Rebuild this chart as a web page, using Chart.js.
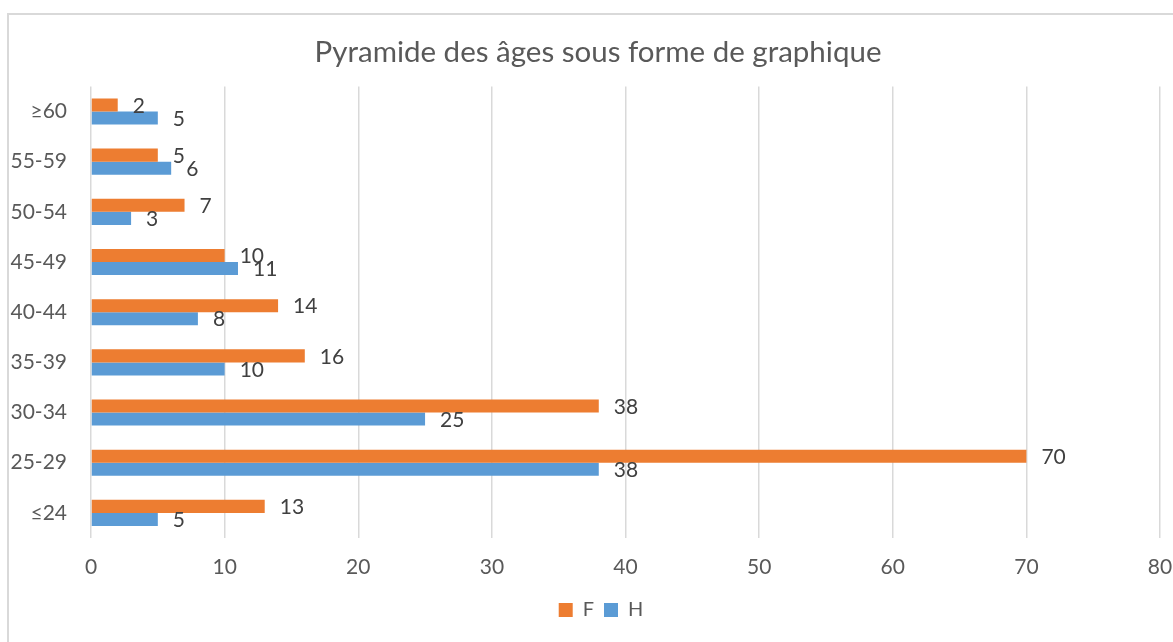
<!DOCTYPE html>
<html>
<head>
<meta charset="utf-8">
<script src="https://cdn.jsdelivr.net/npm/chart.js@4/dist/chart.umd.min.js"></script>
<style>
  html, body { margin: 0; padding: 0; background: #fff; overflow: hidden; }
  #frame { position: absolute; left: 7px; top: 13px; width: 1190px; height: 660px;
           border: 2px solid #d9d9d9; box-sizing: border-box; }
  #wrap { position: absolute; left: 0; top: 0; width: 1173px; height: 642px; }
</style>
</head>
<body>
<div id="frame"></div>
<div id="wrap"><canvas id="chart" width="1173" height="642"></canvas></div>
<script>
// Age groups, oldest at the top
const ageGroups = ['≥60', '55-59', '50-54', '45-49', '40-44', '35-39', '30-34', '25-29', '≤24'];
// Women (F) and men (H) per age group
const femmes = [2, 5, 7, 10, 14, 16, 38, 70, 13];
const hommes = [5, 6, 3, 11, 8, 10, 25, 38, 5];
const xTicks = [0, 10, 20, 30, 40, 50, 60, 70, 80];

const FONT = 'Lato, "Open Sans", sans-serif';

// Writes each bar's value just past its end
const valueLabels = {
  id: 'valueLabels',
  afterDatasetsDraw(chart) {
    const ctx = chart.ctx;
    ctx.save();
    ctx.font = '21px ' + FONT;
    ctx.fillStyle = '#404040';
    ctx.textAlign = 'left';
    ctx.textBaseline = 'middle';
    chart.data.datasets.forEach((ds, di) => {
      const meta = chart.getDatasetMeta(di);
      meta.data.forEach((bar, i) => {
        ctx.fillText(String(ds.data[i]), bar.x + 15, bar.y + 1);
      });
    });
    ctx.restore();
  }
};

// Centres the title and legend on the frame rather than on the canvas
const centreBlocks = {
  id: 'centreBlocks',
  afterLayout(chart) {
    if (chart.titleBlock) { chart.titleBlock.left += 13; chart.titleBlock.right += 13; }
    if (chart.legend) { chart.legend.left += 16; chart.legend.right += 16; }
  }
};

new Chart(document.getElementById('chart'), {
  type: 'bar',
  data: {
    labels: ageGroups,
    datasets: [
      { label: 'F', data: femmes, backgroundColor: '#ED7D31' },
      { label: 'H', data: hommes, backgroundColor: '#5B9BD5' }
    ]
  },
  options: {
    indexAxis: 'y',
    responsive: false,
    animation: false,
    devicePixelRatio: 1,
    layout: { padding: { left: 10, right: 13, top: 0, bottom: 12 } },
    datasets: { bar: { categoryPercentage: 0.52, barPercentage: 1.0 } },
    scales: {
      x: {
        min: 0, max: 80,
        afterBuildTicks(scale) { scale.ticks = xTicks.map(v => ({ value: v })); },
        afterFit(scale) { scale.height = 52; scale.paddingRight = 0; scale.paddingLeft = 0; },
        grid: { color: '#d9d9d9', lineWidth: 1.5, drawTicks: false },
        border: { display: false },
        ticks: { color: '#595959', font: { family: FONT, size: 21 }, padding: 17 }
      },
      y: {
        afterFit(scale) { scale.width = 81; },
        grid: { display: false, drawTicks: false },
        border: { display: false },
        ticks: { color: '#595959', font: { family: FONT, size: 21 }, padding: 24 }
      }
    },
    plugins: {
      title: {
        display: true,
        text: 'Pyramide des âges sous forme de graphique',
        color: '#595959',
        font: { family: FONT, size: 29.5, weight: 'normal' },
        padding: { top: 35, bottom: 16 }
      },
      legend: {
        position: 'bottom',
        labels: {
          color: '#595959',
          font: { family: FONT, size: 20 },
          boxWidth: 14, boxHeight: 14, padding: 10
        }
      },
      tooltip: { enabled: false }
    }
  },
  plugins: [valueLabels, centreBlocks]
});
</script>
</body>
</html>
